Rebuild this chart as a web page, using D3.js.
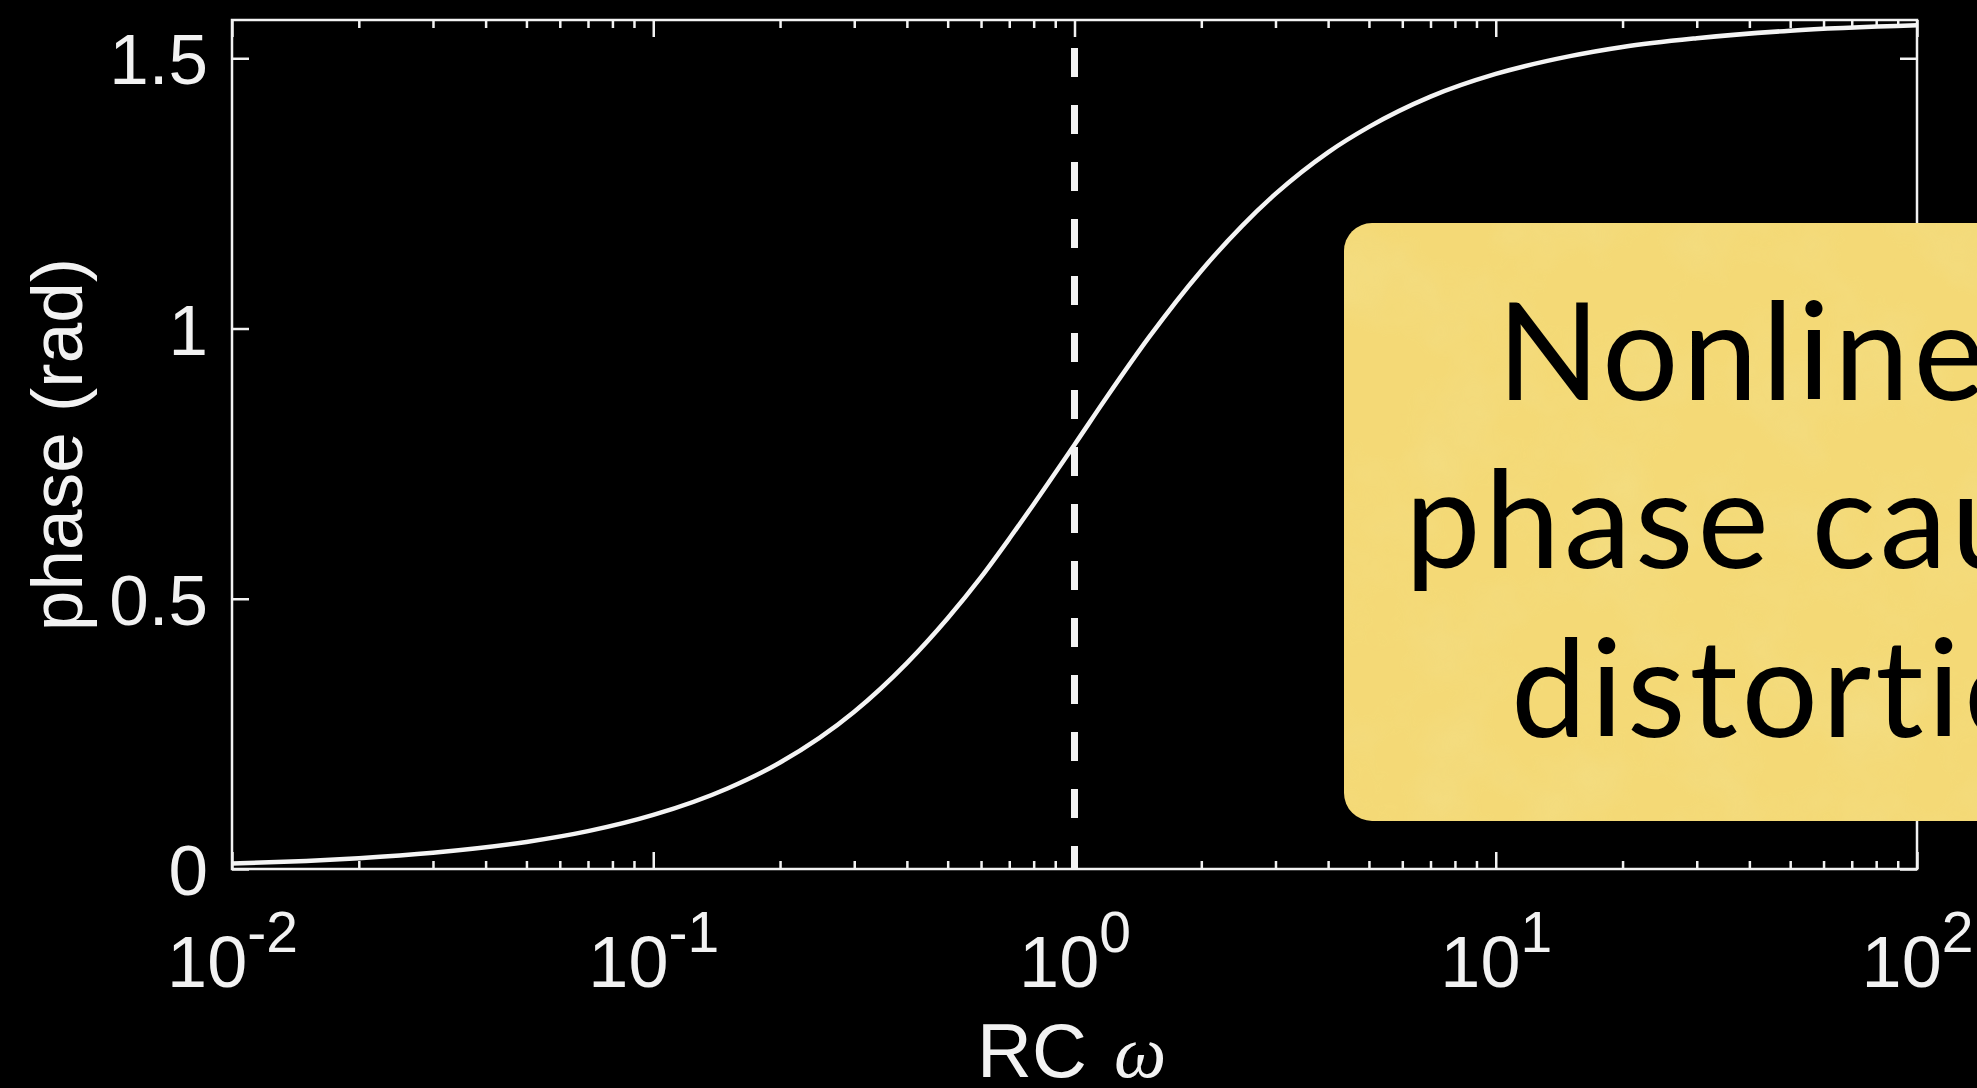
<!DOCTYPE html>
<html>
<head>
<meta charset="utf-8">
<script src="https://cdn.jsdelivr.net/npm/d3@7"></script>
<style>
  html, body { margin: 0; padding: 0; background: #000; overflow: hidden; }
  svg { display: block; }
</style>
</head>
<body>
<div id="chart"></div>
<script>
// values
const omega = [0.01, 0.015, 0.02, 0.03, 0.05, 0.07, 0.1, 0.15, 0.2, 0.3, 0.4, 0.5, 0.6, 0.7, 0.8, 1, 1.2, 1.5, 2, 2.5, 3, 4, 5, 7, 10, 15, 20, 30, 50, 100];
const phase = [0.01, 0.015, 0.02, 0.03, 0.05, 0.07, 0.1, 0.149, 0.197, 0.291, 0.381, 0.464, 0.54, 0.611, 0.675, 0.785, 0.876, 0.983, 1.107, 1.19, 1.249, 1.326, 1.373, 1.429, 1.471, 1.504, 1.521, 1.537, 1.551, 1.561];
const xDomain = [0.01, 100];
const yDomain = [0, Math.PI / 2];
const xMajorTicks = [0.01, 0.1, 1, 10, 100];
const xTickExponents = ["-2", "-1", "0", "1", "2"];
const yTicks = [0, 0.5, 1, 1.5];
const yTickLabels = ["0", "0.5", "1", "1.5"];
const cornerFreq = 1;
const noteLines = ["Nonlinear", "phase causes", "distortion"];

const width = 1977, height = 1088;
const margin = {left: 232, right: 60, top: 20, bottom: 219};

const svg = d3.select("#chart").append("svg")
    .attr("width", width)
    .attr("height", height)
    .style("background", "#000");

const x = d3.scaleLog().domain(xDomain).range([margin.left, width - margin.right]);
const y = d3.scaleLinear().domain(yDomain).range([height - margin.bottom, margin.top]);

const x0 = x.range()[0], x1 = x.range()[1];
const y0 = y.range()[0], y1 = y.range()[1];

const tickFont = "'Liberation Sans', Arial, Helvetica, sans-serif";
const axisColor = "#f2f2f2";

// minor ticks from the scale itself
const xMinorTicks = x.ticks().filter(t => !xMajorTicks.some(m => Math.abs(m - t) < 1e-9));

function styleAxis(g) {
  g.select(".domain").remove();
  g.selectAll(".tick line").attr("stroke", axisColor).attr("stroke-width", 2.5);
}

// bottom axis
svg.append("g")
    .attr("transform", `translate(0,${y0})`)
    .call(d3.axisBottom(x).tickValues(xMinorTicks).tickSize(-8).tickSizeOuter(0).tickFormat(() => ""))
    .call(styleAxis);

const xBottom = svg.append("g")
    .attr("transform", `translate(0,${y0})`)
    .call(d3.axisBottom(x).tickValues(xMajorTicks).tickSize(-17).tickSizeOuter(0).tickFormat(() => ""))
    .call(styleAxis);

xBottom.selectAll(".tick text")
    .attr("fill", axisColor)
    .attr("font-family", tickFont)
    .attr("font-size", 72)
    .attr("y", 118)
    .attr("dy", null)
    .attr("text-anchor", "middle")
    .each(function(d, i) {
      const t = d3.select(this);
      t.append("tspan").text("10");
      t.append("tspan").attr("dy", -35).attr("font-size", 57).text(xTickExponents[i]);
    });

// top axis
svg.append("g")
    .attr("transform", `translate(0,${y1})`)
    .call(d3.axisTop(x).tickValues(xMinorTicks).tickSize(-8).tickSizeOuter(0).tickFormat(() => ""))
    .call(styleAxis);
svg.append("g")
    .attr("transform", `translate(0,${y1})`)
    .call(d3.axisTop(x).tickValues(xMajorTicks).tickSize(-17).tickSizeOuter(0).tickFormat(() => ""))
    .call(styleAxis);

// left axis
const yLeft = svg.append("g")
    .attr("transform", `translate(${x0},0)`)
    .call(d3.axisLeft(y).tickValues(yTicks).tickSize(-17).tickSizeOuter(0).tickPadding(24)
      .tickFormat((d, i) => yTickLabels[i]))
    .call(styleAxis);
yLeft.selectAll(".tick text")
    .attr("fill", axisColor)
    .attr("font-family", tickFont)
    .attr("font-size", 71)
    .attr("dy", "0.36em");

// right axis
svg.append("g")
    .attr("transform", `translate(${x1},0)`)
    .call(d3.axisRight(y).tickValues(yTicks).tickSize(-17).tickSizeOuter(0).tickFormat(() => ""))
    .call(styleAxis);

// frame
svg.append("rect")
    .attr("x", x0).attr("y", y1)
    .attr("width", x1 - x0).attr("height", y0 - y1)
    .attr("fill", "none")
    .attr("stroke", axisColor)
    .attr("stroke-width", 2.5);

// axis labels
svg.append("text")
    .attr("transform", `translate(82,${(y0 + y1) / 2}) rotate(-90)`)
    .attr("text-anchor", "middle")
    .attr("fill", axisColor)
    .attr("font-family", tickFont)
    .attr("font-size", 73)
    .text("phase (rad)");

const xl = svg.append("text")
    .attr("x", 977)
    .attr("y", 1077)
    .attr("fill", axisColor)
    .attr("font-family", tickFont)
    .attr("font-size", 76);
xl.append("tspan").text("RC ");
xl.append("tspan")
    .attr("dx", 6)
    .attr("font-family", "'Liberation Serif', 'DejaVu Serif', serif")
    .attr("font-style", "italic")
    .attr("font-size", 74)
    .text("ω");

// dashed line at the corner frequency, drawn from top to bottom
svg.append("path")
    .datum([yDomain[1], yDomain[0]])
    .attr("d", d3.line().x(() => x(cornerFreq)).y(d => y(d)))
    .attr("fill", "none")
    .attr("stroke", "#f2f2f2")
    .attr("stroke-width", 7)
    .attr("stroke-dasharray", "29 28")
    .attr("stroke-dashoffset", 29);

// phase curve
const pts = omega.map((w, i) => ({w: w, p: phase[i]}));
svg.append("path")
    .datum(pts)
    .attr("d", d3.line().x(d => x(d.w)).y(d => y(d.p)).curve(d3.curveMonotoneX))
    .attr("fill", "none")
    .attr("stroke", "#f4f4f4")
    .attr("stroke-width", 4.5);

// annotation note
const defs = svg.append("defs");
const f = defs.append("filter").attr("id", "paper")
    .attr("x", 0).attr("y", 0).attr("width", 1).attr("height", 1);
f.append("feTurbulence")
    .attr("type", "fractalNoise")
    .attr("baseFrequency", 0.012)
    .attr("numOctaves", 4)
    .attr("seed", 3)
    .attr("result", "noise");
f.append("feColorMatrix")
    .attr("in", "noise")
    .attr("type", "matrix")
    .attr("values", "0 0 0 0 0.89  0 0 0 0 0.77  0 0 0 0 0.30  0 0 0 1.1 -0.45")
    .attr("result", "tint");
f.append("feComposite")
    .attr("in", "tint").attr("in2", "SourceAlpha").attr("operator", "in");

const note = svg.append("g");
note.append("rect")
    .attr("x", 1344).attr("y", 223)
    .attr("width", 800).attr("height", 598)
    .attr("rx", 28)
    .attr("fill", "#f4d976");
note.append("rect")
    .attr("x", 1344).attr("y", 223)
    .attr("width", 800).attr("height", 598)
    .attr("rx", 28)
    .attr("fill", "#000")
    .attr("filter", "url(#paper)")
    .attr("opacity", 0.6);

const noteX = [1497, 1405, 1511];
const noteY = [400, 568, 737];
note.selectAll("text.note")
  .data(noteLines)
  .join("text")
    .attr("class", "note")
    .attr("x", (d, i) => noteX[i])
    .attr("y", (d, i) => noteY[i])
    .attr("fill", "#000")
    .attr("font-family", "Lato, 'Open Sans', sans-serif")
    .attr("font-weight", 400)
    .attr("font-size", 135)
    .attr("letter-spacing", 4)
    .text(d => d);
</script>
</body>
</html>
